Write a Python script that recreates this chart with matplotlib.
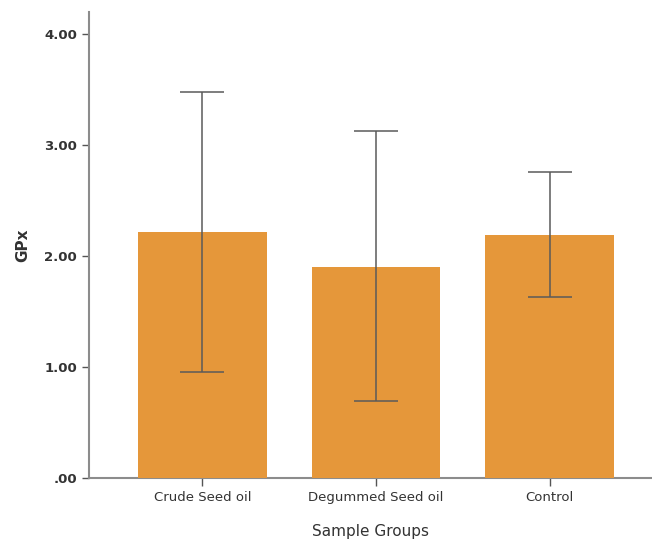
import matplotlib
matplotlib.use("Agg")
import matplotlib.pyplot as plt

# data
groups = ["Crude Seed oil", "Degummed Seed oil", "Control"]
gpx_mean = [2.22, 1.90, 2.19]
err_upper = [3.48, 3.13, 2.76]
err_lower = [0.96, 0.69, 1.63]
yticks = [0, 1, 2, 3, 4]
ytick_labels = [".00", "1.00", "2.00", "3.00", "4.00"]

fig = plt.figure(figsize=(6.52, 5.42), dpi=100)
ax = fig.add_axes([0.1365, 0.118, 0.8635, 0.86])

x = list(range(len(groups)))
yerr = [[m - lo for m, lo in zip(gpx_mean, err_lower)],
        [hi - m for m, hi in zip(gpx_mean, err_upper)]]

ax.bar(x, gpx_mean, width=0.74, color="#E5973A", zorder=3)
ax.errorbar(x, gpx_mean, yerr=yerr, fmt="none", ecolor="#5a5a5a",
            elinewidth=1.1, capsize=15.5, capthick=1.1, zorder=4)

ax.set_xlim(-0.653, 2.59)
ax.set_ylim(0, 4.2)
ax.set_yticks(yticks)
ax.set_yticklabels(ytick_labels, fontsize=9.5, fontweight="bold", color="#333333")
ax.set_xticks(x)
ax.set_xticklabels(groups, fontsize=9.5, color="#333333")

for s in ["top", "right"]:
    ax.spines[s].set_visible(False)
for s in ["left", "bottom"]:
    ax.spines[s].set_color("#8c8c8c")
    ax.spines[s].set_linewidth(1.5)
ax.tick_params(axis="both", colors="#555555", length=5, width=1)
ax.tick_params(axis="x", length=6)
for lbl in ax.get_xticklabels() + ax.get_yticklabels():
    lbl.set_color("#333333")

ax.set_ylabel("GPx", fontsize=11, fontweight="bold", color="#333333", labelpad=10)
ax.set_xlabel("Sample Groups", fontsize=11, color="#333333", labelpad=14)

fig.savefig("out.png", dpi=100)
